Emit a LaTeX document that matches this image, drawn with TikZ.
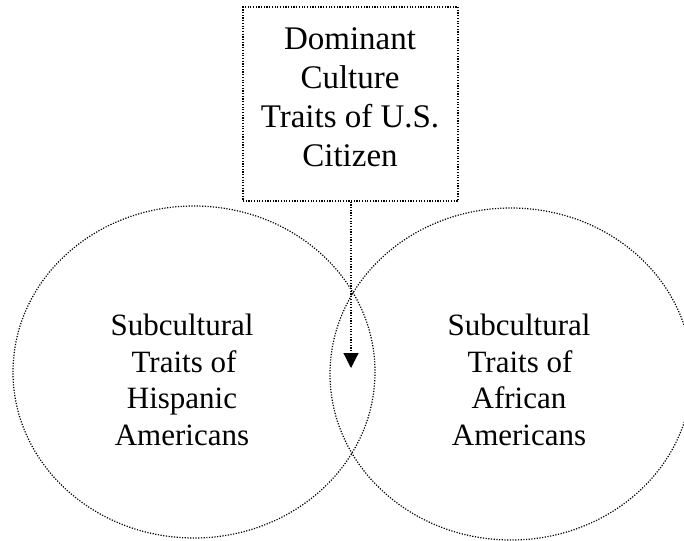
\documentclass[tikz,border=0pt]{standalone}
\usepackage{fontspec}
\setmainfont{Liberation Serif}
\usetikzlibrary{arrows.meta}
\begin{document}
\begin{tikzpicture}[x=1pt,y=-1pt,
  dotline/.style={line width=1.2pt, dash pattern=on 1.2pt off 1.5pt},
  boxline/.style={anchor=base, inner sep=0pt, font=\fontsize{33}{39}\selectfont},
  circline/.style={anchor=base, inner sep=0pt, font=\fontsize{31}{37}\selectfont}]
  \useasboundingbox (0,0) rectangle (684,540);
  % top box with its four lines of text
  \node[draw, dotline, minimum width=215pt, minimum height=194pt, inner sep=0pt] (box) at (350.5,104) {};
  \node[boxline] (b1) at (350,50) {Dominant};
  \node[boxline] (b2) at (350,89) {Culture};
  \node[boxline] (b3) at (350,128) {Traits of U.S.};
  \node[boxline] (b4) at (350,166) {Citizen};
  % two overlapping ellipses
  \draw[dotline] (194,372) ellipse [x radius=181, y radius=166];
  \draw[dotline] (511,374) ellipse [x radius=181, y radius=166];
  % left label
  \node[circline] (l1) at (182,335) {Subcultural};
  \node[circline] (l2) at (184,372) {Traits of};
  \node[circline] (l3) at (182,408) {Hispanic};
  \node[circline] (l4) at (182,445) {Americans};
  % right label
  \node[circline] (r1) at (519,335) {Subcultural};
  \node[circline] (r2) at (520,372) {Traits of};
  \node[circline] (r3) at (519,408) {African};
  \node[circline] (r4) at (519,445) {Americans};
  % arrow from the box into the overlap
  \coordinate (start) at (box.south -| 351,0);
  \coordinate (tip) at (351,368);
  \draw[dotline, -{Triangle[length=15pt,width=15pt]}] (start) -- (tip);
\end{tikzpicture}
\end{document}
